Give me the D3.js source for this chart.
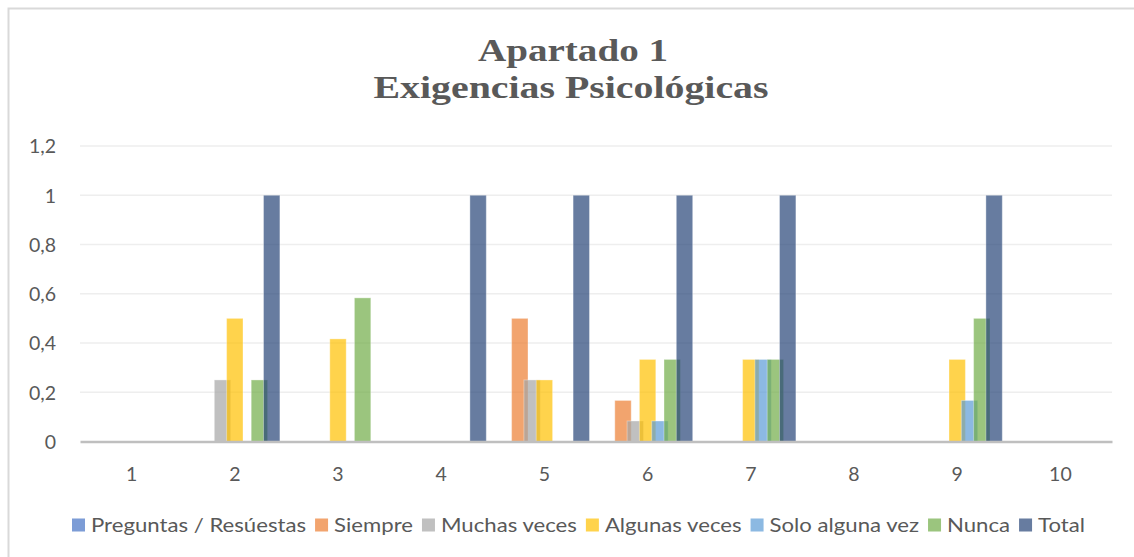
<!DOCTYPE html>
<html>
<head>
<meta charset="utf-8">
<title>Apartado 1 - Exigencias Psicológicas</title>
<script src="https://cdnjs.cloudflare.com/ajax/libs/d3/7.8.5/d3.min.js"></script>
<style>
  body { margin: 0; background: #fff; }
  text { fill: #595959; }
</style>
</head>
<body>
<script>
  var width = 1134, height = 557;

  // datos
  var categorias = ["1", "2", "3", "4", "5", "6", "7", "8", "9", "10"];
  var series = ["Preguntas / Resúestas", "Siempre", "Muchas veces", "Algunas veces", "Solo alguna vez", "Nunca", "Total"];
  var colores = ["#4472C4", "#ED7D31", "#A5A5A5", "#FFC000", "#5B9BD5", "#70AD47", "#264478"];
  var preguntas    = [0, 0, 0, 0, 0, 0, 0, 0, 0, 0];
  var siempre      = [0, 0, 0, 0, 0.5, 0.1667, 0, 0, 0, 0];
  var muchasVeces  = [0, 0.25, 0, 0, 0.25, 0.0833, 0, 0, 0, 0];
  var algunasVeces = [0, 0.5, 0.4167, 0, 0.25, 0.3333, 0.3333, 0, 0.3333, 0];
  var soloAlguna   = [0, 0, 0, 0, 0, 0.0833, 0.3333, 0, 0.1667, 0];
  var nunca        = [0, 0.25, 0.5833, 0, 0, 0.3333, 0.3333, 0, 0.5, 0];
  var total        = [0, 1, 0, 1, 1, 1, 1, 0, 1, 0];
  var valores = [preguntas, siempre, muchasVeces, algunasVeces, soloAlguna, nunca, total];
  var ticksY = [0, 0.2, 0.4, 0.6, 0.8, 1, 1.2];

  var margen = { left: 80, right: 1112, top: 146, bottom: 441.5 };

  var svg = d3.select("body").append("svg")
      .attr("width", width)
      .attr("height", height);

  // borde del grafico
  svg.append("rect")
      .attr("x", 8.5).attr("y", 8.5)
      .attr("width", 1140).attr("height", 570)
      .attr("fill", "none")
      .attr("stroke", "#d9d9d9")
      .attr("stroke-width", 2);

  // titulo
  var titulo = svg.append("g")
      .attr("font-family", "'Liberation Serif', 'Times New Roman', serif")
      .attr("font-weight", "bold")
      .attr("font-size", 32)
      .attr("text-anchor", "middle");
  titulo.append("text").attr("x", 573).attr("y", 61)
      .attr("textLength", 190).attr("lengthAdjust", "spacingAndGlyphs")
      .text("Apartado 1");
  titulo.append("text").attr("x", 571).attr("y", 98)
      .attr("textLength", 395).attr("lengthAdjust", "spacingAndGlyphs")
      .text("Exigencias Psicológicas");

  var x0 = d3.scaleBand()
      .domain(categorias)
      .range([margen.left, margen.right])
      .paddingInner(0.126)
      .paddingOuter(0.063);

  // barras solapadas un 25% como en Excel
  var anchoBarra = x0.bandwidth() / (1 + 0.75 * (series.length - 1));
  var pasoBarra = anchoBarra * 0.75;

  var y = d3.scaleLinear()
      .domain([0, 1.2])
      .range([margen.bottom, margen.top]);

  // lineas de division
  svg.append("g").selectAll("line")
      .data(ticksY.filter(function(d) { return d > 0; }))
      .enter().append("line")
      .attr("x1", margen.left).attr("x2", margen.right)
      .attr("y1", function(d) { return y(d); })
      .attr("y2", function(d) { return y(d); })
      .attr("stroke", "#eeeeee")
      .attr("stroke-width", 1.5);

  // eje Y
  var ejeY = svg.append("g")
      .attr("transform", "translate(" + (margen.left - 24) + ",0)")
      .call(d3.axisLeft(y).tickValues(ticksY).tickSize(0).tickPadding(0)
          .tickFormat(function(d) { return String(d).replace(".", ","); }));
  ejeY.select(".domain").remove();
  ejeY.selectAll("text")
      .attr("font-family", "Lato, 'Open Sans', sans-serif")
      .attr("font-size", 19.5)
      .attr("fill", "#595959")
      .attr("dy", "0.35em");

  // barras
  series.forEach(function(s, i) {
    svg.append("g")
        .attr("fill", colores[i])
        .attr("fill-opacity", 0.7)
        .selectAll("rect")
        .data(valores[i].map(function(v, j) { return { cat: categorias[j], v: v }; })
            .filter(function(d) { return d.v > 0; }))
        .enter().append("rect")
        .attr("x", function(d) { return x0(d.cat) + i * pasoBarra; })
        .attr("y", function(d) { return y(d.v); })
        .attr("width", anchoBarra)
        .attr("height", function(d) { return y(0) - y(d.v); })
        .attr("stroke", "#ffffff")
        .attr("stroke-opacity", 0.35)
        .attr("stroke-width", 1);
  });

  // eje X
  var ejeX = svg.append("g")
      .attr("transform", "translate(0," + margen.bottom + ")")
      .call(d3.axisBottom(x0).tickSize(0).tickPadding(0));
  ejeX.select(".domain")
      .attr("stroke", "#bfbfbf")
      .attr("stroke-width", 2.5);
  ejeX.selectAll("text")
      .attr("font-family", "Lato, 'Open Sans', sans-serif")
      .attr("font-size", 19.5)
      .attr("fill", "#595959")
      .attr("y", 33)
      .attr("dy", "0.35em");

  // leyenda: se estira el texto para ocupar el mismo ancho que en Excel
  var leyenda = svg.append("g")
      .attr("font-family", "Lato, 'Open Sans', sans-serif")
      .attr("font-size", 20);
  var items = [];
  series.forEach(function(s, i) {
    var g = leyenda.append("g");
    g.append("rect")
        .attr("width", 13).attr("height", 13)
        .attr("y", -6.5)
        .attr("fill", colores[i]).attr("fill-opacity", 0.7);
    var t = g.append("text")
        .attr("x", 19)
        .attr("dy", "0.35em")
        .text(s);
    items.push({ g: g, t: t, w: t.node().getComputedTextLength() });
  });
  var sep = 9, inicio = 72, fin = 1085;
  var fijo = items.length * 19 + sep * (items.length - 1);
  var escala = (fin - inicio - fijo) / d3.sum(items, function(d) { return d.w; });
  var cursor = inicio;
  items.forEach(function(d) {
    var w = d.w * escala;
    d.t.attr("textLength", w).attr("lengthAdjust", "spacingAndGlyphs");
    d.g.attr("transform", "translate(" + cursor + ",525)");
    cursor += 19 + w + sep;
  });
</script>
</body>
</html>
